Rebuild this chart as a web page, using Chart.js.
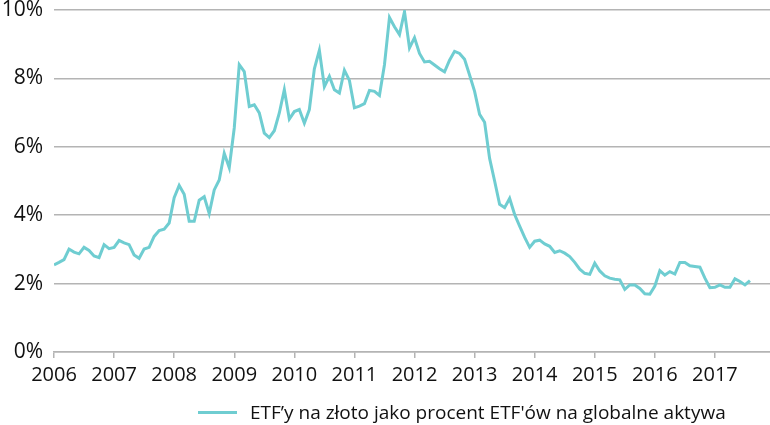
<!DOCTYPE html>
<html>
<head>
<meta charset="utf-8">
<script src="https://cdn.jsdelivr.net/npm/chart.js@4.4.1/dist/chart.umd.min.js"></script>
<style>
    html, body { margin: 0; padding: 0; background: #fff; }
    #wrap { position: relative; width: 770px; height: 425px; }
    #legend {
        position: absolute; left: 198px; top: 399px;
        font-family: "Open Sans", sans-serif; font-size: 19px; color: #111;
        display: flex; align-items: center; white-space: nowrap;
    }
    #legend .swatch { width: 39px; height: 3px; background: #6fcdd1; margin-right: 13px; }
</style>
</head>
<body>
<div id="wrap">
    <canvas id="chart" width="770" height="425"></canvas>
    <div id="legend"><span class="swatch"></span><span id="legendText"></span></div>
</div>
<script>
// tick labels for the x axis, one per year (12 months apart)
var years = ["2006", "2007", "2008", "2009", "2010", "2011", "2012", "2013", "2014", "2015", "2016", "2017"];

var seriesLabel = "ETF\u2019y na złoto jako procent ETF'ów na globalne aktywa";

// monthly values in %, Jan 2006 .. Aug 2017
var values = [
    2.55, 2.62, 2.70, 3.01, 2.92, 2.87, 3.06, 2.97, 2.81, 2.76, 3.14, 3.02,
    3.06, 3.26, 3.19, 3.14, 2.84, 2.74, 3.01, 3.06, 3.38, 3.55, 3.59, 3.77,
    4.51, 4.87, 4.61, 3.82, 3.82, 4.44, 4.54, 4.05, 4.74, 5.03, 5.81, 5.39,
    6.55, 8.40, 8.20, 7.18, 7.23, 6.99, 6.40, 6.27, 6.47, 6.99, 7.67, 6.81,
    7.03, 7.09, 6.69, 7.09, 8.28, 8.82, 7.76, 8.06, 7.67, 7.57, 8.24, 7.94,
    7.14, 7.19, 7.26, 7.65, 7.62, 7.50, 8.40, 9.78, 9.51, 9.28, 9.95, 8.89,
    9.19, 8.73, 8.48, 8.50, 8.39, 8.28, 8.19, 8.53, 8.79, 8.73, 8.56, 8.10,
    7.62, 6.95, 6.72, 5.66, 5.00, 4.32, 4.22, 4.49, 4.02, 3.68, 3.35, 3.06,
    3.24, 3.27, 3.16, 3.09, 2.91, 2.96, 2.89, 2.79, 2.62, 2.42, 2.30, 2.27,
    2.60, 2.37, 2.23, 2.16, 2.13, 2.11, 1.83, 1.96, 1.96, 1.86, 1.70, 1.69,
    1.93, 2.38, 2.25, 2.35, 2.28, 2.62, 2.62, 2.52, 2.50, 2.48, 2.16, 1.88,
    1.89, 1.96, 1.89, 1.89, 2.14, 2.06, 1.96, 2.09
];

var lineColor = "#6fcdd1";
var gridColor = "#b4b4b4";
var xFont = { family: "'Open Sans', sans-serif", size: 20 };
var yFont = { family: "'Open Sans', sans-serif", size: 21 };

function setup() {
    document.getElementById("legendText").textContent = seriesLabel;

    // x = month index since Jan 2006
    var points = values.map(function (v, i) {
        return { x: i, y: v };
    });

    new Chart(document.getElementById("chart"), {
        type: "line",
        data: {
            datasets: [{
                label: seriesLabel,
                data: points,
                borderColor: lineColor,
                borderWidth: 3,
                pointRadius: 0,
                tension: 0
            }]
        },
        options: {
            responsive: false,
            animation: false,
            layout: { padding: { top: 10, right: 0, bottom: 33, left: 0 } },
            plugins: {
                legend: { display: false },
                tooltip: { enabled: false }
            },
            scales: {
                x: {
                    type: "linear",
                    min: 0,
                    max: 143,
                    afterBuildTicks: function (scale) {
                        scale.ticks = years.map(function (y, i) { return { value: i * 12 }; });
                    },
                    ticks: {
                        autoSkip: false,
                        maxRotation: 0,
                        padding: 5,
                        color: "#111",
                        font: xFont,
                        callback: function (v) { return years[Math.round(v / 12)]; }
                    },
                    grid: {
                        drawOnChartArea: false,
                        drawTicks: true,
                        tickLength: 6,
                        color: gridColor,
                        lineWidth: 1.5
                    },
                    border: { display: true, color: gridColor, width: 1.5 }
                },
                y: {
                    min: 0,
                    max: 10,
                    afterFit: function (scale) {
                        scale.width = 54;
                        // let the top label overhang so the 10% line sits near the top edge
                        scale.paddingTop = 0;
                        scale.paddingBottom = 0;
                    },
                    ticks: {
                        stepSize: 2,
                        padding: 11,
                        color: "#111",
                        font: yFont,
                        callback: function (v) { return v + "%"; }
                    },
                    grid: {
                        color: gridColor,
                        lineWidth: 1.5,
                        drawTicks: false
                    },
                    border: { display: false }
                }
            }
        }
    });
}

setup();
</script>
</body>
</html>
